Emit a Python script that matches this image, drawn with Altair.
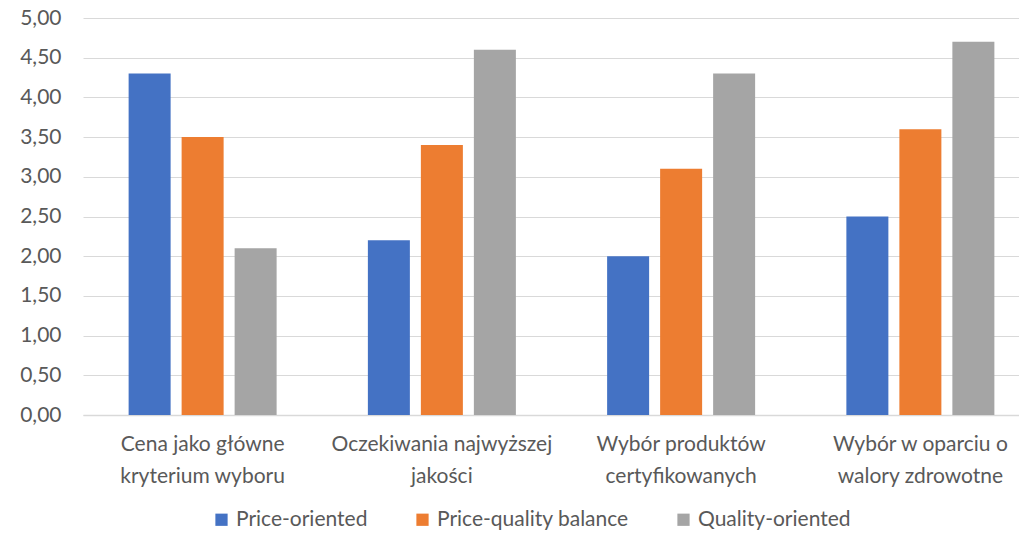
import altair as alt
import pandas as pd

categories = [
    "Cena jako główne|kryterium wyboru",
    "Oczekiwania najwyższej|jakości",
    "Wybór produktów|certyfikowanych",
    "Wybór w oparciu o|walory zdrowotne",
]
series = ["Price-oriented", "Price-quality balance", "Quality-oriented"]
price_oriented = [4.3, 2.2, 2.0, 2.5]
price_quality = [3.5, 3.4, 3.1, 3.6]
quality_oriented = [2.1, 4.6, 4.3, 4.7]
colors = ["#4472C4", "#ED7D31", "#A5A5A5"]

rows = []
for vals, s in zip([price_oriented, price_quality, quality_oriented], series):
    for c, v in zip(categories, vals):
        rows.append({"category": c, "series": s, "value": v})
df = pd.DataFrame(rows)

FONT = "Lato"
GREY = "#595959"
FS = 21

chart = alt.Chart(df).mark_bar().encode(
    x=alt.X(
        "category:N",
        sort=categories,
        scale=alt.Scale(range=[0, 957], paddingInner=0.3354, paddingOuter=0.1677),
        axis=alt.Axis(
            title=None,
            labelAngle=0,
            labelExpr="split(datum.label, '|')",
            labelFont=FONT,
            labelFontSize=FS,
            labelColor=GREY,
            labelLineHeight=32,
            labelPadding=18,
            labelBaseline="top",
            labelLimit=400,
            ticks=False,
            domainColor="#D9D9D9",
            domainWidth=1.5,
        ),
    ),
    xOffset=alt.XOffset(
        "series:N", sort=series,
        scale=alt.Scale(paddingInner=0.2075, paddingOuter=0.1038),
    ),
    y=alt.Y(
        "value:Q",
        scale=alt.Scale(domain=[0, 5], nice=False),
        axis=alt.Axis(
            title=None,
            values=[0, 0.5, 1, 1.5, 2, 2.5, 3, 3.5, 4, 4.5, 5],
            labelExpr="replace(format(datum.value, '.2f'), '.', ',')",
            labelFont=FONT,
            labelFontSize=FS,
            labelColor=GREY,
            labelPadding=22,
            ticks=False,
            domain=False,
            gridColor="#D9D9D9",
            gridWidth=1.2,
        ),
    ),
    color=alt.Color(
        "series:N",
        sort=series,
        scale=alt.Scale(domain=series, range=colors),
        legend=alt.Legend(
            title=None,
            orient="none",
            legendX=128,
            legendY=491,
            direction="horizontal",
            symbolType="square",
            symbolSize=150,
            symbolStrokeWidth=0,
            labelFont=FONT,
            labelFontSize=FS,
            labelColor=GREY,
            labelLimit=400,
            columnPadding=44,
            labelOffset=4,
        ),
    ),
).properties(
    width=936,
    height=397,
    padding={"left": 75, "top": 10, "right": 0, "bottom": 118},
    autosize=alt.AutoSizeParams(type="none"),
).configure_view(stroke=None)

chart.save("out.html", embed_options={"renderer": "svg", "actions": False})
